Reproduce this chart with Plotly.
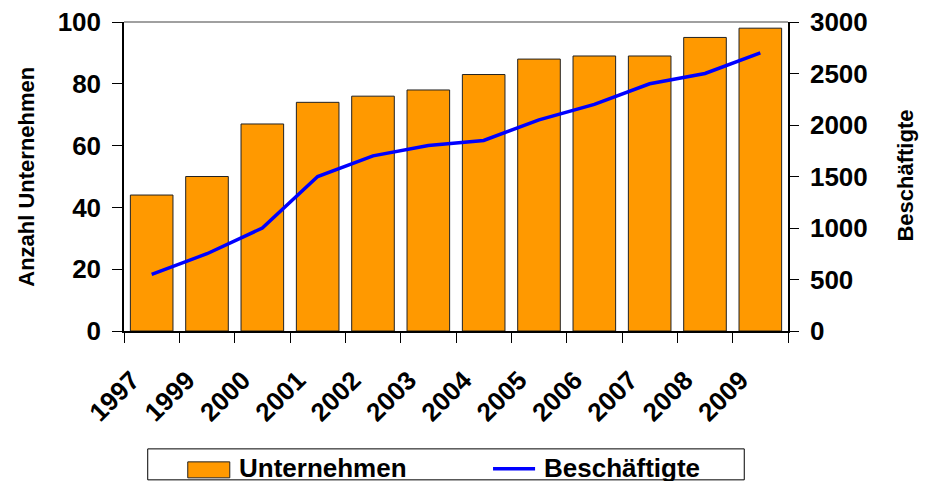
import plotly.graph_objects as go

years = ["1997", "1999", "2000", "2001", "2002", "2003", "2004", "2005", "2006", "2007", "2008", "2009"]
unternehmen = [44, 50, 67, 74, 76, 78, 83, 88, 89, 89, 95, 98]
beschaeftigte = [550, 750, 1000, 1500, 1700, 1800, 1850, 2050, 2200, 2400, 2500, 2700]

positions = [i + 0.5 for i in range(len(years))]
tick_positions = list(range(len(years) + 1))
tick_text = years + [""]

# the page body has an 8px margin; size the figure so it ends at the window edge
OFF = 8
W, H = 928 - OFF, 481 - OFF
L, R, T, B = 124.3 - OFF, 787.7 - OFF, 21.7 - OFF, 331.0 - OFF
FONT = "Arial, Liberation Sans, sans-serif"

def px(x):
    return (x - OFF - L) / (R - L)

def py(y):
    return (B - (y - OFF)) / (B - T)

fig = go.Figure()
fig.add_trace(go.Bar(
    x=positions, y=unternehmen, name="Unternehmen", width=0.77,
    marker=dict(color="#FF9900", line=dict(color="#222222", width=1)),
    yaxis="y", showlegend=False,
))
fig.add_trace(go.Scatter(
    x=positions, y=beschaeftigte, name="Beschäftigte", mode="lines",
    line=dict(color="#0000FF", width=3.5),
    yaxis="y2", showlegend=False,
))

tickfont = dict(family=FONT, size=26, color="black", weight="bold")

fig.update_layout(
    width=W, height=H,
    margin=dict(l=L, r=W - R, t=T, b=H - B, pad=0),
    paper_bgcolor="white", plot_bgcolor="white",
    xaxis=dict(
        range=[0, 12], tickmode="array", tickvals=tick_positions, ticktext=tick_text,
        tickangle=-45, ticks="outside", ticklen=10, tickcolor="black", tickwidth=1,
        showline=True, linecolor="black", linewidth=1.5, showgrid=False, zeroline=False,
        tickfont=tickfont, automargin=False, ticklabelstandoff=12, ticklabelshift=8,
        ticklabeloverflow="allow",
    ),
    yaxis=dict(
        range=[0, 100], tickvals=[0, 20, 40, 60, 80, 100], ticks="outside", ticklen=10,
        tickcolor="black", showline=True, linecolor="black", linewidth=1.5,
        showgrid=False, zeroline=False, tickfont=tickfont, ticklabelstandoff=6,
        automargin=False, ticklabeloverflow="allow",
    ),
    yaxis2=dict(
        range=[0, 3000], tickvals=[0, 500, 1000, 1500, 2000, 2500, 3000], ticks="outside",
        ticklen=9, tickcolor="black", showline=True, linecolor="black", linewidth=1.5,
        showgrid=False, zeroline=False, overlaying="y", side="right",
        tickfont=tickfont, ticklabelstandoff=6, automargin=False, ticklabeloverflow="allow",
    ),
)

# top border of plot area
fig.add_shape(type="line", xref="paper", yref="paper", x0=0, x1=1, y0=1, y1=1,
              line=dict(color="#808080", width=1.5))

# axis titles
titlefont = dict(family=FONT, size=22, color="black", weight="bold")
fig.add_annotation(text="Anzahl Unternehmen", xref="paper", yref="paper",
                   x=px(27), y=py(177), textangle=-90, showarrow=False,
                   xanchor="center", yanchor="middle", font=titlefont)
fig.add_annotation(text="Beschäftigte", xref="paper", yref="paper",
                   x=px(905), y=py(175), textangle=-90, showarrow=False,
                   xanchor="center", yanchor="middle", font=titlefont)

# legend (drawn manually)
fig.add_shape(type="rect", xref="paper", yref="paper", x0=px(148), x1=px(744),
              y0=py(480), y1=py(449), line=dict(color="black", width=1), fillcolor="white")
fig.add_shape(type="rect", xref="paper", yref="paper", x0=px(188), x1=px(230),
              y0=py(478), y1=py(462), line=dict(color="#222222", width=1), fillcolor="#FF9900")
fig.add_shape(type="line", xref="paper", yref="paper", x0=px(493), x1=px(535),
              y0=py(469), y1=py(469), line=dict(color="#0000FF", width=3.5))
legfont = dict(family=FONT, size=26, color="black", weight="bold")
fig.add_annotation(text="Unternehmen", xref="paper", yref="paper", x=px(237), y=py(468),
                   showarrow=False, xanchor="left", yanchor="middle", font=legfont)
fig.add_annotation(text="Beschäftigte", xref="paper", yref="paper", x=px(542), y=py(468),
                   showarrow=False, xanchor="left", yanchor="middle", font=legfont)

fig.write_html("out.html")
